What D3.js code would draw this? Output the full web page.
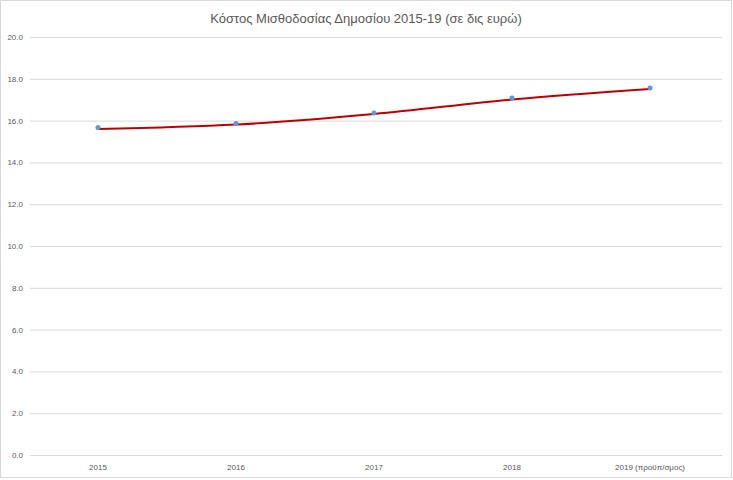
<!DOCTYPE html>
<html><head><meta charset="utf-8">
<script src="https://cdn.jsdelivr.net/npm/d3@7"></script>
<style>body{margin:0;background:#fff}svg{display:block}</style>
</head><body>
<script>
const title = "Κόστος Μισθοδοσίας Δημοσίου 2015-19 (σε δις ευρώ)";
const categories = ["2015", "2016", "2017", "2018", "2019 (προϋπ/σμος)"];
const values = [15.67, 15.86, 16.36, 17.08, 17.56];
const trend = [15.6, 15.81, 16.32, 17.01, 17.51];
const yTicks = [0, 2, 4, 6, 8, 10, 12, 14, 16, 18, 20];

const W = 733, H = 480;
const svg = d3.select("body").append("svg").attr("width", W).attr("height", H);
svg.append("rect").attr("x", 0.5).attr("y", 0.5).attr("width", W - 2).attr("height", H - 3)
  .attr("fill", "#fff").attr("stroke", "#d9d9d9");

const x1 = 722;
const xb = d3.scaleBand().domain(categories).range([29, 719]);
const y = d3.scaleLinear().domain([0, 20]).range([455, 37]);

const font = "'Liberation Sans', Arial, sans-serif";
svg.append("text").attr("x", 366).attr("y", 23).attr("text-anchor", "middle")
  .attr("font-family", font).attr("font-size", 13).attr("fill", "#595959").text(title);

const yAxis = d3.axisLeft(y).tickValues(yTicks).tickFormat(d3.format(".1f")).tickSize(-(x1 - 30)).tickPadding(8);
const gy = svg.append("g").attr("transform", "translate(30,0)").call(yAxis);
gy.select(".domain").remove();
gy.selectAll(".tick line").attr("stroke", "#d9d9d9");
gy.selectAll(".tick text").attr("font-family", font).attr("font-size", 8).attr("fill", "#595959")
  .attr("x", -7);

const xAxis = d3.axisBottom(xb).tickSize(0).tickPadding(9);
const gx = svg.append("g").attr("transform", "translate(0,455)").call(xAxis);
gx.select(".domain").remove();
gx.selectAll(".tick text").attr("font-family", font).attr("font-size", 8).attr("fill", "#595959");

const cx = d => xb(d) + xb.bandwidth() / 2;
const line = d3.line().x((d, i) => cx(categories[i])).y(d => y(d)).curve(d3.curveMonotoneX);
svg.append("path").datum(trend).attr("d", line).attr("fill", "none")
  .attr("stroke", "#c00000").attr("stroke-width", 2);

svg.selectAll("circle.pt").data(values).enter().append("circle").attr("class", "pt")
  .attr("cx", (d, i) => cx(categories[i])).attr("cy", d => y(d)).attr("r", 2.5)
  .attr("fill", "#5b9bd5");
</script>
</body></html>
